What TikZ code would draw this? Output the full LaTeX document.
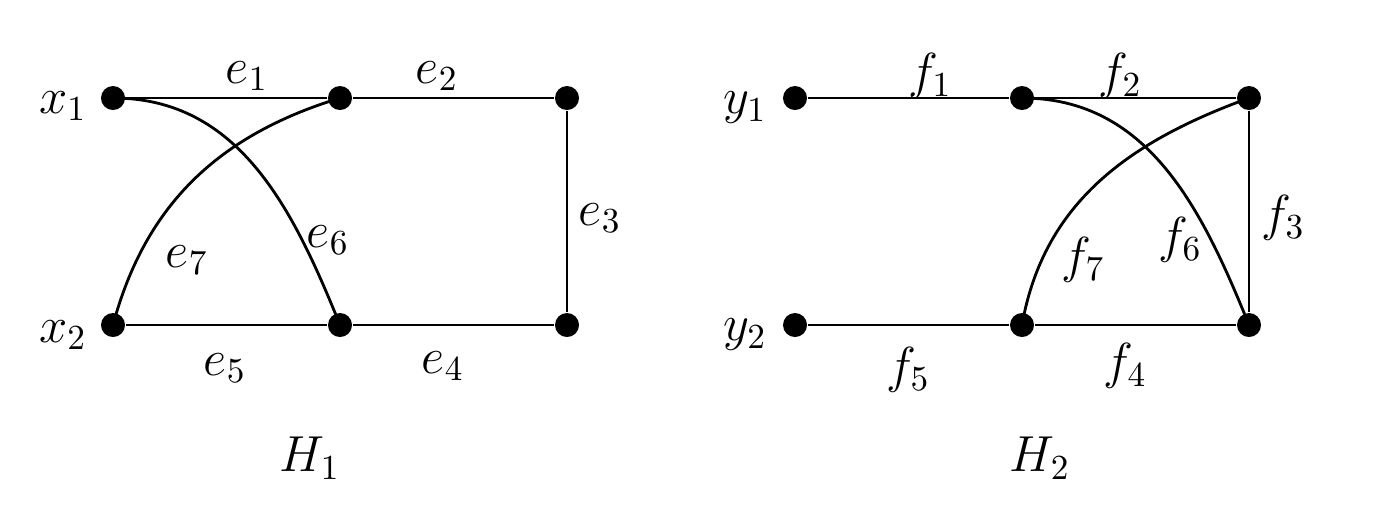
\documentclass[tikz,border=0pt]{standalone}
\begin{document}
\begin{tikzpicture}[x=0.01cm,y=-0.01cm,line width=0.8pt,
  vert/.style={circle,fill=black,inner sep=0pt,minimum size=0.24cm},
  lab/.style={font=\Large}]
		\useasboundingbox (0,0) rectangle (1381,520);
		% H1
		\node[vert] (x1) at (113,98) {};
		\node[vert] (a) at (340,98) {};
		\node[vert] (b) at (567,98) {};
		\node[vert] (x2) at (113,325) {};
		\node[vert] (c) at (340,325) {};
		\node[vert] (d) at (567,325) {};
		\draw (x1) to (a) to (b) to (d) to (c) to (x2);
		\draw (x1.center) to[out=0,in=112] (c.center);
		\draw (x2.center) to[out=75,in=197] (a.center);
		\node[lab] (le1) at (247,76) {$e_1$};
		\node[lab] (le2) at (437,76) {$e_2$};
		\node[lab] (le3) at (600,218) {$e_3$};
		\node[lab] (le4) at (443,366) {$e_4$};
		\node[lab] (le5) at (225,368) {$e_5$};
		\node[lab] (le6) at (328,240) {$e_6$};
		\node[lab] (le7) at (187,260) {$e_7$};
		\node[lab] (lx1) at (63,106) {$x_1$};
		\node[lab] (lx2) at (63,335) {$x_2$};
		\node[lab] (lH1) at (310,458) {$H_1$};
		% H2
		\node[vert] (y1) at (795,98) {};
		\node[vert] (p) at (1022,98) {};
		\node[vert] (q) at (1249,98) {};
		\node[vert] (y2) at (795,325) {};
		\node[vert] (r) at (1022,325) {};
		\node[vert] (s) at (1249,325) {};
		\draw (y1) to (p) to (q) to (s) to (r) to (y2);
		\draw (p.center) to[out=0,in=112] (s.center);
		\draw (r.center) to[out=80,in=200] (q.center);
		\node[lab] (lf1) at (930,76) {$f_1$};
		\node[lab] (lf2) at (1120,76) {$f_2$};
		\node[lab] (lf3) at (1283,218) {$f_3$};
		\node[lab] (lf4) at (1125,366) {$f_4$};
		\node[lab] (lf5) at (908,370) {$f_5$};
		\node[lab] (lf6) at (1180,240) {$f_6$};
		\node[lab] (lf7) at (1083,260) {$f_7$};
		\node[lab] (ly1) at (745,108) {$y_1$};
		\node[lab] (ly2) at (745,335) {$y_2$};
		\node[lab] (lH2) at (1040,458) {$H_2$};
	\end{tikzpicture}
\end{document}
